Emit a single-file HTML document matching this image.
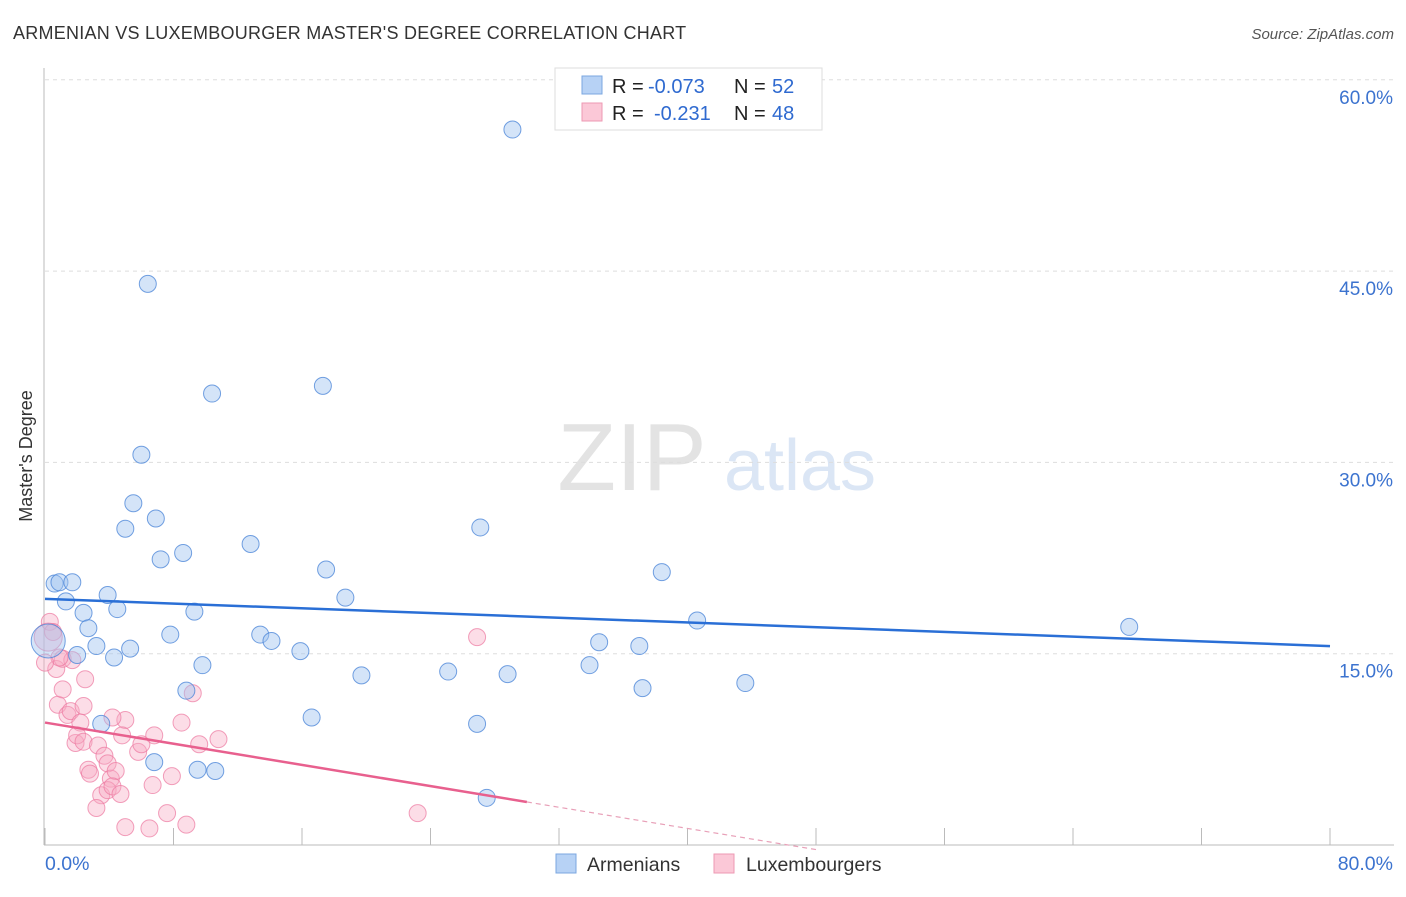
<!DOCTYPE html>
<html><head><meta charset="utf-8"><style>
body{margin:0;background:#fff;font-family:"Liberation Sans",sans-serif;}
svg text{font-family:"Liberation Sans",sans-serif;}
</style></head><body>
<svg id="c" width="1406" height="892" viewBox="0 0 1406 892">
<text x="13" y="39" font-size="18" letter-spacing="0.25" fill="#333">ARMENIAN VS LUXEMBOURGER MASTER'S DEGREE CORRELATION CHART</text>
<text x="1394" y="39" font-size="15" fill="#555" font-style="italic" text-anchor="end">Source: ZipAtlas.com</text>
<text x="32" y="456" font-size="18" fill="#333" text-anchor="middle" transform="rotate(-90 32 456)">Master's Degree</text>
<g>
<text x="632" y="490" font-size="96" fill="#e3e3e3" font-family="Liberation Serif" text-anchor="middle">ZIP</text>
<text x="800" y="490" font-size="72" fill="#dbe6f5" text-anchor="middle">atlas</text>
</g>
<g id="grid"></g><g id="marks"></g>
<g>
<rect x="555" y="68" width="267" height="62" fill="#fff" stroke="#ddd"/>
<rect x="582" y="76" width="20" height="18" fill="#b7d2f5" stroke="#7ba7e0"/>
<rect x="582" y="103" width="20" height="18" fill="#fbc8d7" stroke="#ee99b3"/>
<text x="612" y="93" font-size="20" fill="#222">R = <tspan fill="#2f6ad0" x="648">-0.073</tspan><tspan x="734">N = </tspan><tspan fill="#2f6ad0" x="772">52</tspan></text>
<text x="612" y="120" font-size="20" fill="#222">R = <tspan fill="#2f6ad0" x="654">-0.231</tspan><tspan x="734">N = </tspan><tspan fill="#2f6ad0" x="772">48</tspan></text>
</g>
<g>
<rect x="556" y="854" width="20" height="19" fill="#b7d2f5" stroke="#7ba7e0"/>
<text x="587" y="871" font-size="19.5" fill="#333">Armenians</text>
<rect x="714" y="854" width="20" height="19" fill="#fbc8d7" stroke="#ee99b3"/>
<text x="746" y="871" font-size="19.5" fill="#333">Luxembourgers</text>
</g>
</svg>
<script>
const xTicks=[0,8,16,24,32,40,48,56,64,72,80];
const yTicks=[15,30,45,60];
const blueX=[29.1,6.4,10.4,17.3,6.0,5.5,5.0,6.9,7.2,8.6,12.8,27.1,0.6,0.9,1.7,1.3,2.4,3.9,4.5,2.7,3.2,2.0,4.3,5.3,7.8,9.3,9.8,13.4,14.1,15.9,17.5,18.7,19.7,25.1,28.8,26.9,34.5,33.9,37.0,37.2,38.4,40.6,43.6,67.5,8.8,16.6,3.5,6.8,9.5,10.6,27.5,0.2];
const blueY=[56.1,44.0,35.4,36.0,30.6,26.8,24.8,25.6,22.4,22.9,23.6,24.9,20.5,20.6,20.6,19.1,18.2,19.6,18.5,17.0,15.6,14.9,14.7,15.4,16.5,18.3,14.1,16.5,16.0,15.2,21.6,19.4,13.3,13.6,13.4,9.5,15.9,14.1,15.6,12.3,21.4,17.6,12.7,17.1,12.1,10.0,9.5,6.5,5.9,5.8,3.7,16.0];
const pinkX=[0.3,0.5,0.7,0.8,1.1,1.1,1.4,1.6,1.9,1.7,2.5,2.4,2.2,2.0,2.4,3.3,3.7,3.9,4.1,2.7,2.8,4.4,3.5,3.9,4.2,4.7,3.2,5.0,4.8,5.8,6.0,6.8,7.9,6.7,8.5,9.2,9.6,10.8,7.6,5.0,6.5,8.8,4.2,23.2,26.9,0.9,0.2,0.0];
const pinkY=[17.5,16.7,13.8,11.0,12.2,14.6,10.2,10.5,8.0,14.5,13.0,10.9,9.6,8.6,8.1,7.8,7.0,6.4,5.2,5.9,5.6,5.8,3.9,4.3,4.6,4.0,2.9,9.8,8.6,7.3,7.9,8.6,5.4,4.7,9.6,11.9,7.9,8.3,2.5,1.4,1.3,1.6,10.0,2.5,16.3,14.7,16.3,14.3];
const trendIntercept=[19.3,9.6];
const trendSlope=[-0.0463,-0.2075];
const pinkSolidEnd=30,pinkDashEnd=48;
const X0=45,X1=1330,Y0=845,YS=191.3/15;
const sx=v=>X0+(X1-X0)*v/80, sy=v=>Y0-v*YS;
const NS='http://www.w3.org/2000/svg';
const grid=document.getElementById('grid'),marks=document.getElementById('marks');
function mk(tag,attrs,parent){const e=document.createElementNS(NS,tag);for(const k in attrs)e.setAttribute(k,attrs[k]);parent.appendChild(e);return e;}
let a=mk('line',{x1:44,y1:68,x2:44,y2:845,stroke:'#bbb'},grid);


a=mk('line',{x1:44,y1:845,x2:1394,y2:845,stroke:'#bbb'},grid);


yTicks.forEach(t=>{const y=sy(t);
 let g=mk('line',{x1:45,y1:y,x2:1394,y2:y,stroke:'#ddd','stroke-dasharray':'4,4'},grid);
 
 
 let l=mk('text',{x:1393,y:y+24,'font-size':19,fill:'#3c73cf','text-anchor':'end'},grid);l.textContent=t.toFixed(1)+'%';
 
 });
xTicks.forEach(t=>{const x=sx(t);
 let k=mk('line',{x1:x,y1:828,x2:x,y2:845,stroke:'#bbb'},grid);
 
 });
[[0,'start',45],[80,'end',1393]].forEach(([t,anc,x])=>{let l=mk('text',{x:x,y:870,'font-size':19.5,fill:'#3c73cf','text-anchor':anc},grid);l.textContent=t.toFixed(1)+'%';
 
 });
pinkX.forEach((v,i)=>{const big=(i===46);let c=mk('circle',{cx:sx(v),cy:sy(pinkY[i]),r:big?14:8.5,fill:'rgba(248,170,195,0.4)',stroke:'rgba(236,120,160,0.7)','stroke-width':1},marks);
 
 });
blueX.forEach((v,i)=>{const big=(i===51);let c=mk('circle',{cx:sx(v),cy:sy(blueY[i]),r:big?17:8.5,fill:'rgba(160,195,240,0.45)',stroke:'rgba(70,130,215,0.75)','stroke-width':1},marks);
 
 });
let t=mk('line',{x1:sx(0),y1:sy(trendIntercept[0]),x2:sx(80),y2:sy(trendIntercept[0]+trendSlope[0]*80),stroke:'#2a6fd6','stroke-width':2.5},marks);


t=mk('line',{x1:sx(0),y1:sy(trendIntercept[1]),x2:sx(pinkSolidEnd),y2:sy(trendIntercept[1]+trendSlope[1]*pinkSolidEnd),stroke:'#e8608e','stroke-width':2.5},marks);


t=mk('line',{x1:sx(pinkSolidEnd),y1:sy(trendIntercept[1]+trendSlope[1]*pinkSolidEnd),x2:sx(pinkDashEnd),y2:sy(trendIntercept[1]+trendSlope[1]*pinkDashEnd),stroke:'#e8a0b8','stroke-width':1.2,'stroke-dasharray':'5,4'},marks);


</script>
</body></html>
